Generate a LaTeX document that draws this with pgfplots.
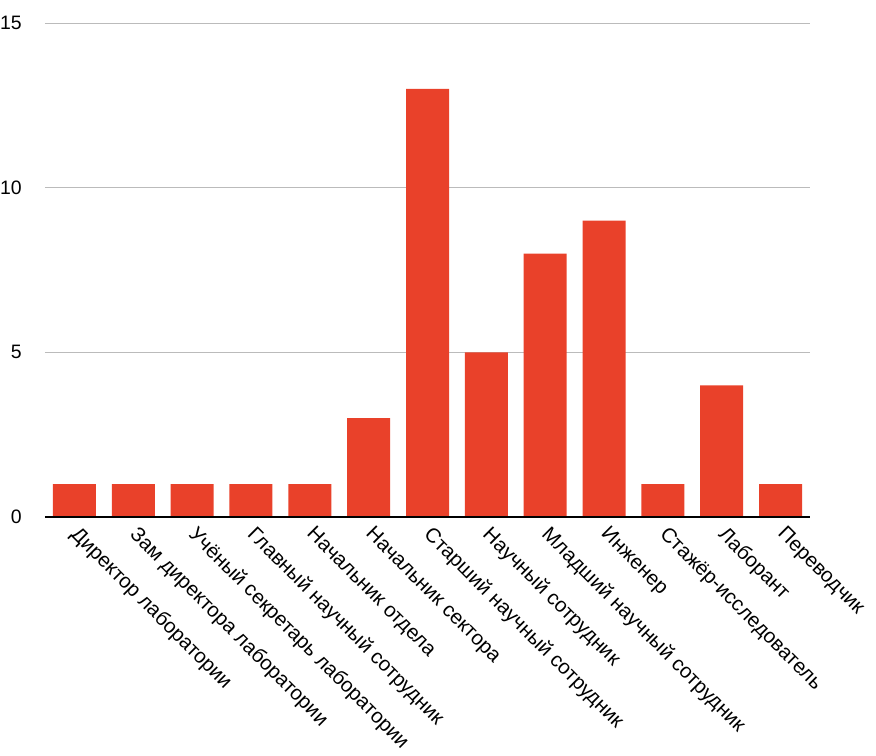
\documentclass[border=0pt]{standalone}
\usepackage{fontspec}
\setmainfont{Liberation Sans}
\usepackage{pgfplots}
\pgfplotsset{compat=1.18}
\definecolor{barred}{HTML}{E9412A}
\definecolor{gridgray}{HTML}{BBBBBB}
\begin{document}
\begin{tikzpicture}
\begin{axis}[
  at={(0,0)}, anchor=south west,
  scale only axis,
  width=765bp, height=494bp,
  xmin=-0.5, xmax=12.5,
  ymin=0, ymax=15,
  ytick={0,5,10,15},
  xtick=data,
  xticklabels={Директор лаборатории,Зам директора лаборатории,Учёный секретарь лаборатории,Главный научный сотрудник,Начальник отдела,Начальник сектора,Старший научный сотрудник,Научный сотрудник,Младший научный сотрудник,Инженер,Стажёр-исследователь,Лаборант,Переводчик},
  axis line style={draw=none},
  major tick length=0pt,
  ymajorgrids,
  grid style={gridgray, line width=0.8bp},
  /pgf/number format/assume math mode=true,
  yticklabel style={font=\fontsize{19.5}{22}\selectfont, anchor=east, inner sep=0pt, xshift=-23bp},
  xticklabel style={font=\fontsize{20.5}{23}\selectfont, rotate=-45, anchor=north west, inner sep=0pt, xshift=10bp, yshift=-1bp},
  ybar, bar width=43bp,
  clip=false,
]
\addplot[fill=barred, draw=none] coordinates {
(0,1) (1,1) (2,1) (3,1) (4,1) (5,3) (6,13) (7,5) (8,8) (9,9) (10,1) (11,4) (12,1)};
\draw[black, line width=2bp] (axis cs:-0.5,0) -- (axis cs:12.5,0);
\end{axis}
\pgfresetboundingbox
\path[use as bounding box] (-45bp,-239bp) rectangle (831bp,517bp);
\end{tikzpicture}
\end{document}
